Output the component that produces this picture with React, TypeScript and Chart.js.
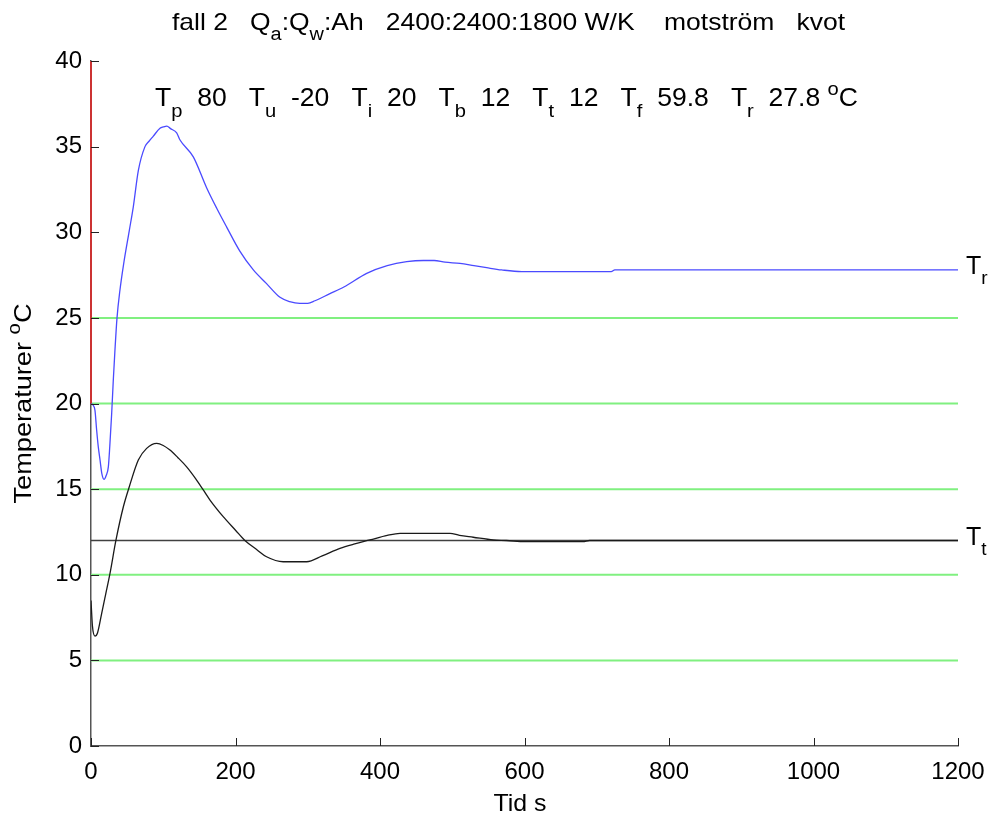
import React, { useEffect, useRef } from "react";
import { Chart, registerables } from "chart.js";
Chart.register(...registerables);

// ---- data ----
const trTime = [0, 3, 5.5, 7.8, 10, 12.5, 15, 18, 21, 24, 26, 28.6, 30.9, 33, 36, 40, 45, 53, 58.6, 65.5, 74.7, 80, 86, 95.5, 100, 105, 110, 118.6, 123, 141.6, 160, 174, 187.8, 206, 224.7, 243, 261.6, 275, 289, 300, 310, 330, 350, 381.6, 410, 437, 460, 475, 490, 510.7, 530, 547.6, 568.4, 596, 650, 720, 725, 1200];
const trTemp = [20, 19.9, 19.6, 18.45, 17.5, 16.7, 15.9, 15.57, 15.8, 16.3, 17.5, 19.4, 21.4, 23, 25, 26.6, 28.1, 30.1, 31.5, 33.6, 35, 35.3, 35.6, 36.07, 36.15, 36.2, 36.05, 35.8, 35.4, 34.4, 32.6, 31.4, 30.3, 28.9, 27.8, 27.0, 26.2, 25.95, 25.85, 25.85, 26.0, 26.4, 26.8, 27.6, 28.05, 28.28, 28.35, 28.35, 28.25, 28.18, 28.05, 27.93, 27.8, 27.7, 27.7, 27.7, 27.8, 27.8];

const ttTime = [0, 2, 5.5, 9, 14.8, 20, 26.3, 34.6, 44.8, 53, 65.5, 77, 91, 100, 109.3, 120, 132.4, 145, 155.4, 164.7, 183, 200, 213, 230, 243, 266, 298.5, 320, 344.6, 365, 386, 410, 427.7, 496.9, 510, 529, 556.8, 575, 600.7, 681, 690, 1200];
const ttTemp = [8.5, 7.0, 6.42, 6.6, 7.75, 8.8, 10.08, 12.03, 13.97, 15.14, 16.7, 17.38, 17.67, 17.55, 17.28, 16.85, 16.3, 15.6, 14.95, 14.36, 13.39, 12.6, 12.0, 11.45, 11.05, 10.76, 10.76, 11.1, 11.54, 11.8, 12.03, 12.3, 12.42, 12.42, 12.3, 12.19, 12.03, 12.0, 11.93, 11.93, 12.0, 12.0];

const greenLevels = [5, 10, 15, 20, 25];
const refLevel = 12;
const redSpan = [20, 40];
const xRange = [0, 1200];
const xTicks = [0, 200, 400, 600, 800, 1000, 1200];
const yTicks = [0, 5, 10, 15, 20, 25, 30, 35, 40];

const annNames = ["p", "u", "i", "b", "t", "f", "r"];
const annValues = ["80", "-20", "20", "12", "12", "59.8", "27.8"];
const trLabelValue = 27.8;
const ttLabelValue = 12;

const FONT = "'Liberation Sans', Arial, Helvetica, sans-serif";

type Seg = { t: string; s?: "sub" | "sup" };

const titleSegs: Seg[] = [
  { t: "fall 2   Q" }, { t: "a", s: "sub" }, { t: ":Q" }, { t: "w", s: "sub" },
  { t: ":Ah   2400:2400:1800 W/K    motström   kvot" },
];

function annSegs(): Seg[] {
  const out: Seg[] = [];
  annNames.forEach((n, i) => {
    out.push({ t: (i === 0 ? "" : "   ") + "T" });
    out.push({ t: n, s: "sub" });
    out.push({ t: "  " + annValues[i] });
  });
  out.push({ t: " " });
  out.push({ t: "o", s: "sup" });
  out.push({ t: "C" });
  return out;
}

function drawRich(ctx: CanvasRenderingContext2D, segs: Seg[], x: number, y: number, size: number, targetW?: number, align: "left" | "center" = "left") {
  const small = Math.round(size * 0.75);
  let w = 0;
  const widths: number[] = [];
  segs.forEach((sg) => {
    ctx.font = `${sg.s ? small : size}px ${FONT}`;
    const ww = ctx.measureText(sg.t).width;
    widths.push(ww);
    w += ww;
  });
  const sx = targetW ? targetW / w : 1;
  ctx.save();
  ctx.translate(align === "center" ? x - (w * sx) / 2 : x, y);
  ctx.scale(sx, 1);
  ctx.fillStyle = "#000";
  ctx.textBaseline = "alphabetic";
  ctx.textAlign = "left";
  let cx = 0;
  segs.forEach((sg, i) => {
    ctx.font = `${sg.s ? small : size}px ${FONT}`;
    const dy = sg.s === "sub" ? size * 0.42 : sg.s === "sup" ? -size * 0.45 : 0;
    ctx.fillText(sg.t, cx, dy);
    cx += widths[i];
  });
  ctx.restore();
}

const decorPlugin = {
  id: "decor",
  afterDatasetsDraw(chart: any) {
    const { ctx, chartArea, scales } = chart;
    const xs = scales.x, ys = scales.y;
    ctx.save();
    ctx.strokeStyle = "#222";
    ctx.lineWidth = 1;
    xTicks.forEach((v) => {
      const px = Math.round(xs.getPixelForValue(v)) + 0.5;
      ctx.beginPath();
      ctx.moveTo(px, chartArea.bottom);
      ctx.lineTo(px, chartArea.bottom - 8);
      ctx.stroke();
    });
    yTicks.forEach((v) => {
      const py = Math.round(ys.getPixelForValue(v)) + 0.5;
      ctx.beginPath();
      ctx.moveTo(chartArea.left, py);
      ctx.lineTo(chartArea.left + 8, py);
      ctx.stroke();
    });
    ctx.restore();
  },
  afterDraw(chart: any) {
    const { ctx, chartArea, scales } = chart;
    const ys = scales.y;
    // title
    drawRich(ctx, titleSegs, 172, 30, 24, 673);
    // annotation
    drawRich(ctx, annSegs(), 155, 106, 25, 703);
    // right labels
    const lx = chartArea.right + 8;
    drawRich(ctx, [{ t: "T" }, { t: "r", s: "sub" }], lx, ys.getPixelForValue(trLabelValue) + 4, 25);
    drawRich(ctx, [{ t: "T" }, { t: "t", s: "sub" }], lx, ys.getPixelForValue(ttLabelValue) + 4, 25);
    // y title
    ctx.save();
    ctx.translate(31, (chartArea.top + chartArea.bottom) / 2);
    ctx.rotate(-Math.PI / 2);
    drawRich(ctx, [{ t: "Temperaturer " }, { t: "o", s: "sup" }, { t: "C" }], 0, 0, 24, 200, "center");
    ctx.restore();
    // x title
    drawRich(ctx, [{ t: "Tid s" }], 520, 811, 24, 53, "center");
  },
};

export default function App() {
  const ref = useRef<HTMLCanvasElement | null>(null);
  useEffect(() => {
    if (!ref.current) return;
    const hline = (lv: number) => [{ x: xRange[0], y: lv }, { x: xRange[1], y: lv }];
    const datasets: any[] = [];
    greenLevels.forEach((lv) =>
      datasets.push({ data: hline(lv), borderColor: "#80f080", borderWidth: 2, pointRadius: 0, order: 10 })
    );
    datasets.push({ data: hline(refLevel), borderColor: "#404040", borderWidth: 1.5, pointRadius: 0, order: 9 });
    datasets.push({
      data: ttTime.map((t, i) => ({ x: t, y: ttTemp[i] })),
      borderColor: "#1a1a1a", borderWidth: 1.3, pointRadius: 0, order: 5, cubicInterpolationMode: "monotone",
    });
    datasets.push({
      data: trTime.map((t, i) => ({ x: t, y: trTemp[i] })),
      borderColor: "#4a4aff", borderWidth: 1.3, pointRadius: 0, order: 4, cubicInterpolationMode: "monotone",
    });
    datasets.push({
      data: [{ x: 0, y: redSpan[0] }, { x: 0, y: redSpan[1] }],
      borderColor: "#cc3333", borderWidth: 2, pointRadius: 0, order: 1, clip: false,
    });
    const tickFont = { family: FONT, size: 24 };
    const chart = new Chart(ref.current, {
      type: "line",
      data: { datasets },
      options: {
        responsive: false,
        animation: false,
        devicePixelRatio: 1,
        layout: { padding: { left: 0, right: 31, top: 61, bottom: 0 } },
        plugins: { legend: { display: false }, tooltip: { enabled: false } },
        elements: { line: { tension: 0 } },
        scales: {
          x: {
            type: "linear", min: xRange[0], max: xRange[1],
            afterBuildTicks: (s: any) => { s.ticks = xTicks.map((v) => ({ value: v })); },
            ticks: { font: tickFont, color: "#000", padding: 12, maxRotation: 0, autoSkip: false, callback: (v: any) => String(v) },
            grid: { display: false, drawTicks: false },
            border: { display: true, color: "#555", width: 1.5 },
            afterFit: (s: any) => { s.height = 70; s.paddingLeft = 0; s.paddingRight = 0; },
          },
          y: {
            type: "linear", min: 0, max: 40,
            afterBuildTicks: (s: any) => { s.ticks = yTicks.map((v) => ({ value: v })); },
            ticks: { font: tickFont, color: "#000", padding: 9, autoSkip: false, callback: (v: any) => String(v) },
            grid: { display: false, drawTicks: false },
            border: { display: true, color: "#555", width: 1.5 },
            afterFit: (s: any) => { s.width = 91; s.paddingTop = 0; s.paddingBottom = 0; },
          },
        },
      },
      plugins: [decorPlugin],
    } as any);
    return () => chart.destroy();
  }, []);
  return (
    <div style={{ position: "absolute", left: 0, top: 0, width: 989, height: 816, background: "#fff" }}>
      <canvas ref={ref} width={989} height={816} style={{ width: 989, height: 816 }} />
    </div>
  );
}
